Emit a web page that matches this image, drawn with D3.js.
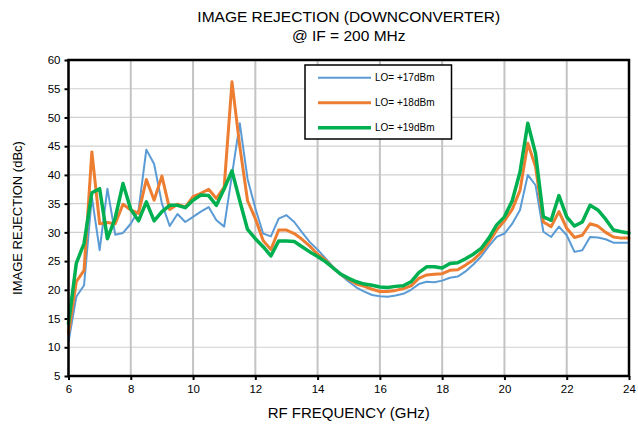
<!DOCTYPE html>
<html><head><meta charset="utf-8">
<script src="https://cdn.jsdelivr.net/npm/d3@7"></script>
<style>
body{margin:0;background:#fff;}
svg{display:block;font-family:"Liberation Sans",Arial,sans-serif;}
</style></head>
<body><svg id="c" width="638" height="428"></svg>
<script>
const freqs = [6,6.25,6.5,6.75,7,7.25,7.5,7.75,8,8.25,8.5,8.75,9,9.25,9.5,9.75,10,10.25,10.5,10.75,11,11.25,11.5,11.75,12,12.25,12.5,12.75,13,13.25,13.5,13.75,14,14.25,14.5,14.75,15,15.25,15.5,15.75,16,16.25,16.5,16.75,17,17.25,17.5,17.75,18,18.25,18.5,18.75,19,19.25,19.5,19.75,20,20.25,20.5,20.75,21,21.25,21.5,21.75,22,22.25,22.5,22.75,23,23.25,23.5,23.75,24];
const lo17 = [10.9,18.8,20.8,36.2,26.9,37.6,29.6,29.9,31.5,33.9,44.4,41.9,35.0,31.1,33.2,31.8,32.7,33.6,34.4,32.1,31.0,40.0,49.0,39.3,34.2,29.8,29.3,32.4,33.0,31.8,30.0,28.3,27.0,25.5,24.0,22.6,21.4,20.4,19.7,19.1,18.9,18.8,19.0,19.3,20.0,21.0,21.4,21.3,21.6,22.1,22.3,23.2,24.4,25.8,27.6,29.2,29.8,31.5,33.9,40.0,38.2,30.1,29.2,31.0,29.5,26.6,26.9,29.2,29.1,28.8,28.2,28.2,28.2];
const lo18 = [12.4,21.4,23.4,44.0,31.5,31.7,31.5,34.9,33.9,33.3,39.2,35.6,39.8,34.0,34.9,34.4,36.2,36.8,37.5,35.9,37.9,56.2,45.0,35.5,32.4,28.6,27.0,30.4,30.4,29.8,28.8,27.6,26.2,25.2,23.8,22.7,21.8,21.0,20.6,20.1,19.7,19.7,19.9,20.2,20.7,22.0,22.6,22.7,22.8,23.4,23.5,24.3,25.2,26.5,28.3,30.4,32.0,34.0,37.3,45.5,41.4,31.8,31.0,33.6,30.7,29.1,29.5,31.5,31.1,30.0,29.2,29.0,29.0];
const lo19 = [14.1,24.6,28.1,36.9,37.6,28.9,32.5,38.5,34.0,32.0,35.3,32.0,33.6,34.7,34.7,34.3,35.6,36.5,36.4,34.7,37.6,40.7,35.5,30.5,28.9,27.5,25.9,28.5,28.5,28.4,27.5,26.6,25.8,24.9,23.8,22.7,22.0,21.4,21.0,20.8,20.5,20.4,20.6,20.7,21.4,23.0,24.0,24.0,23.8,24.6,24.7,25.4,26.2,27.2,29.0,31.3,32.7,35.5,40.5,49.0,43.7,32.7,32.1,36.4,32.7,31.1,31.8,34.7,33.9,32.3,30.4,30.1,29.9];
const seriesNames = ["LO= +17dBm","LO= +18dBm","LO= +19dBm"];
const seriesColors = ["#5B9BD5","#ED7D31","#00B050"];
const seriesWidths = [2,3,3.5];
const xTicks = [6,8,10,12,14,16,18,20,22,24];
const yTicks = [5,10,15,20,25,30,35,40,45,50,55,60];
const titleLines = ["IMAGE REJECTION (DOWNCONVERTER)","@ IF = 200 MHz"];
const xLabel = "RF FREQUENCY (GHz)";
const yLabel = "IMAGE REJECTION (dBc)";

const svg = d3.select("#c");
const L = 68.5, R = 629, T = 60, B = 376;
const x = d3.scaleLinear().domain([6,24]).range([L,R]);
const y = d3.scaleLinear().domain([5,60]).range([B,T]);

svg.append("g").selectAll("line").data(yTicks).join("line")
  .attr("x1",L).attr("x2",R).attr("y1",d=>y(d)).attr("y2",d=>y(d))
  .attr("stroke","#D0D0D0").attr("stroke-width",1.2);
svg.append("g").selectAll("line").data(xTicks).join("line")
  .attr("y1",T).attr("y2",B).attr("x1",d=>x(d)).attr("x2",d=>x(d))
  .attr("stroke","#C4C4C4").attr("stroke-width",2);

const xAxis = d3.axisBottom(x).tickValues(xTicks).tickSize(4).tickPadding(5).tickFormat(d3.format("d"));
const yAxis = d3.axisLeft(y).tickValues(yTicks).tickSize(4).tickPadding(4).tickFormat(d3.format("d"));
const gx = svg.append("g").attr("transform",`translate(0,${B})`).call(xAxis);
const gy = svg.append("g").attr("transform",`translate(${L},0)`).call(yAxis);
[gx,gy].forEach(g=>{
  g.select(".domain").remove();
  g.selectAll(".tick line").attr("stroke","#000").attr("stroke-width",2);
  g.selectAll(".tick text").attr("fill","#000").style("font-size","11.5px").style("font-family","'Liberation Sans',Arial,sans-serif");
});

const data = [lo17,lo18,lo19];
const line = d3.line().x((d,i)=>x(freqs[i])).y(d=>y(d));
const gl = svg.append("g");
data.forEach((s,k)=>{
  gl.append("path").datum(s).attr("d",line).attr("fill","none")
    .attr("stroke",seriesColors[k]).attr("stroke-width",seriesWidths[k])
    .attr("stroke-linejoin","round").attr("stroke-linecap","round");
});

svg.append("rect").attr("x",L).attr("y",T).attr("width",R-L).attr("height",B-T)
  .attr("fill","none").attr("stroke","#000").attr("stroke-width",2.5);

const lg = svg.append("g");
lg.append("rect").attr("x",305).attr("y",65).attr("width",146.5).attr("height",74)
  .attr("fill","#fff").attr("stroke","#000").attr("stroke-width",1.5);
seriesNames.forEach((n,k)=>{
  const yy = 77.7 + k*25;
  lg.append("line").attr("x1",318).attr("x2",371).attr("y1",yy).attr("y2",yy)
    .attr("stroke",seriesColors[k]).attr("stroke-width",seriesWidths[k]);
  lg.append("text").attr("x",375).attr("y",yy+3.5).text(n)
    .style("font-size","10px").attr("fill","#000");
});

const cx = (L+R)/2;
svg.append("text").attr("x",cx).attr("y",22).attr("text-anchor","middle")
  .style("font-size","15.5px").text(titleLines[0]);
svg.append("text").attr("x",cx).attr("y",40.5).attr("text-anchor","middle")
  .style("font-size","15.5px").text(titleLines[1]);
svg.append("text").attr("x",cx).attr("y",418).attr("text-anchor","middle")
  .style("font-size","15px").text(xLabel);
svg.append("text").attr("transform",`translate(22,${(T+B)/2}) rotate(-90)`)
  .attr("text-anchor","middle").style("font-size","13px").text(yLabel);
</script></body></html>
